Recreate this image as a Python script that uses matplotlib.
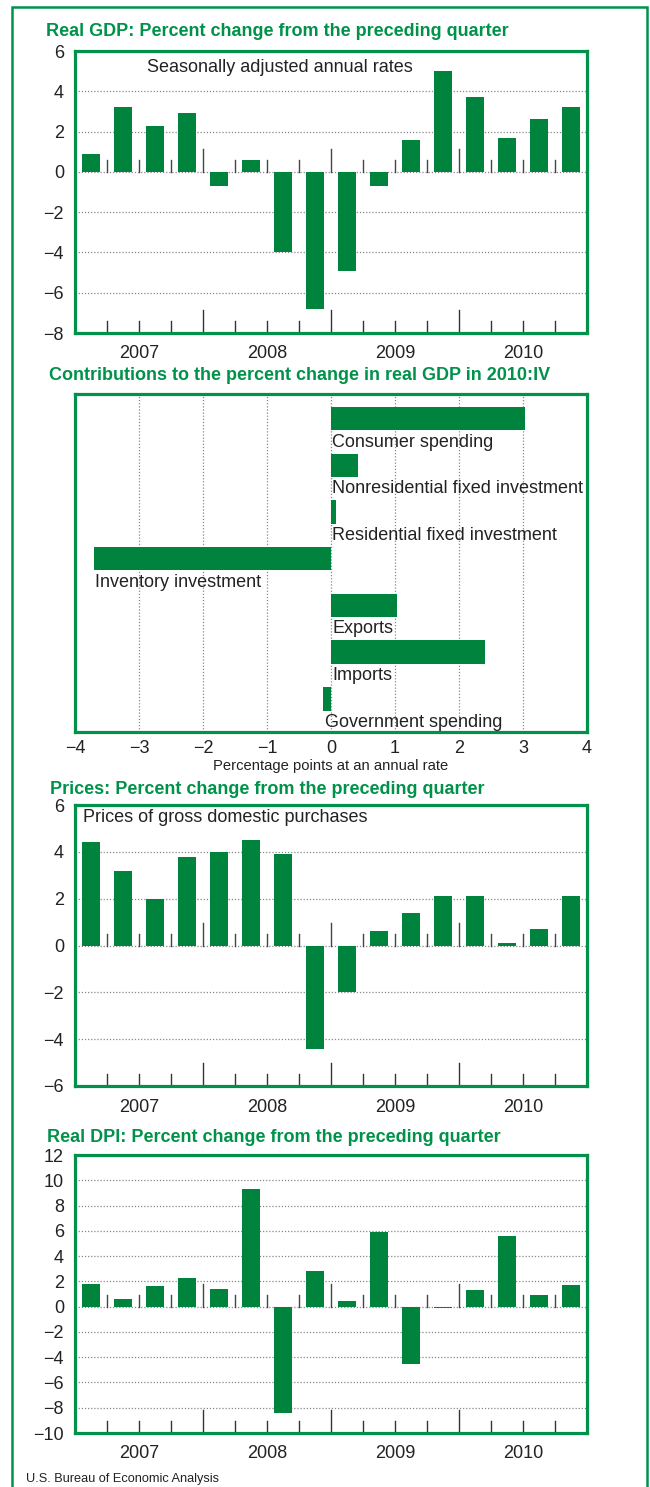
import matplotlib
matplotlib.use("Agg")
import matplotlib.pyplot as plt
import matplotlib.transforms as mtransforms
from matplotlib import font_manager
from matplotlib.patches import Rectangle

# quarters 2007:I - 2010:IV
years = ['2007', '2008', '2009', '2010']
gdp = [0.9, 3.2, 2.3, 2.9, -0.7, 0.6, -4.0, -6.8, -4.9, -0.7, 1.6, 5.0, 3.7, 1.7, 2.6, 3.2]
prices = [4.4, 3.2, 2.0, 3.8, 4.0, 4.5, 3.9, -4.4, -2.0, 0.6, 1.4, 2.1, 2.1, 0.1, 0.7, 2.1]
dpi_chg = [1.8, 0.6, 1.6, 2.3, 1.4, 9.3, -8.4, 2.8, 0.45, 5.9, -4.5, -0.07, 1.3, 5.6, 0.9, 1.7]

contrib_labels = ['Consumer spending', 'Nonresidential fixed investment',
                  'Residential fixed investment', 'Inventory investment',
                  'Exports', 'Imports', 'Government spending']
contrib_vals = [3.03, 0.42, 0.08, -3.71, 1.03, 2.40, -0.12]

W, H = 650, 1487
GREEN = '#00843d'
EDGE = '#00924a'
TXT = '#222222'
plt.rcParams['font.family'] = ['Liberation Sans', 'DejaVu Sans']

# condensed face for titles if there is one, else shrink the normal one
installed = {f.name for f in font_manager.fontManager.ttflist}
if 'Liberation Sans Narrow' in installed:
    NARROW = ['Liberation Sans Narrow', 'DejaVu Sans']
    t_size, small_scale = 15.5, 1.0
elif 'DejaVu Sans Condensed' in installed:
    NARROW = ['DejaVu Sans Condensed', 'DejaVu Sans']
    t_size, small_scale = 14.0, 0.95
else:
    NARROW = ['Liberation Sans', 'DejaVu Sans']
    t_size, small_scale = 13.0, 0.9

fig = plt.figure(figsize=(W / 100, H / 100), dpi=100)


def px_axes(x0, y0, x1, y1):
    return fig.add_axes([x0 / W, 1 - y1 / H, (x1 - x0) / W, (y1 - y0) / H])


def title(x, y, s):
    fig.text(x / W, 1 - y / H, s, family=NARROW, fontweight='bold', fontsize=t_size,
             color=EDGE, ha='left', va='center')


def style_spines(ax):
    for sp in ax.spines.values():
        sp.set_color(EDGE)
        sp.set_linewidth(2.3)


def quarter_panel(ax, vals, ylo, yhi, step, h_px):
    n = len(vals)
    ax.bar(range(n), vals, width=0.58, color=GREEN, zorder=3)
    ax.set_xlim(-0.5, n - 0.5)
    ax.set_ylim(ylo, yhi)
    ax.set_yticks(range(ylo, yhi + 1, step))
    ax.tick_params(axis='y', length=0, labelsize=13, labelcolor=TXT, pad=8)
    ax.set_xticks([1.5, 5.5, 9.5, 13.5])
    ax.set_xticklabels(years)
    ax.tick_params(axis='x', length=0, labelsize=13, labelcolor=TXT, pad=9)
    for yv in range(ylo + step, yhi, step):
        ax.axhline(yv, color='#888888', lw=0.9, ls=(0, (1, 1.5)), zorder=1)
    unit_px = h_px / (yhi - ylo)
    trans = mtransforms.blended_transform_factory(ax.transData, ax.transAxes)
    for k in range(1, n):
        xb = k - 0.5
        big = (k % 4 == 0)
        L = 23 if big else 12
        ax.plot([xb, xb], [0, L / h_px], transform=trans, color='#333333', lw=1, zorder=2,
                clip_on=False)
        ax.plot([xb, xb], [0, L / unit_px], color='#444444', lw=1, zorder=2)
    style_spines(ax)


# panel 1: real GDP
ax1 = px_axes(75, 51, 587, 333)
quarter_panel(ax1, gdp, -8, 6, 2, 282)
ax1.text((280 - 75) / 512, 1 - 16 / 282, 'Seasonally adjusted annual rates',
         transform=ax1.transAxes, ha='center', va='center', fontsize=13, color=TXT)
title(46, 31, 'Real GDP: Percent change from the preceding quarter')

# panel 2: contributions
ax2 = px_axes(75, 394, 587, 732)
ypos = list(range(len(contrib_vals)))
ax2.barh(ypos, contrib_vals, height=0.5, color=GREEN, zorder=3)
ax2.set_xlim(-4, 4)
ax2.set_ylim(6.71, -0.53)
ax2.set_yticks([])
ax2.set_xticks(range(-4, 5))
ax2.tick_params(axis='x', length=0, labelsize=13, labelcolor=TXT, pad=6)
for xv in range(-3, 4):
    ax2.axvline(xv, color='#888888', lw=0.9, ls=(0, (1, 1.5)), zorder=1)
for yp, v, lab in zip(ypos, contrib_vals, contrib_labels):
    ax2.text(min(0, v) + 0.02, yp + 0.5, lab, ha='left', va='center', fontsize=13,
             color=TXT, zorder=4)
ax2.set_xlabel('Percentage points at an annual rate', family=NARROW,
               fontsize=11.8 * small_scale, color=TXT, labelpad=1)
style_spines(ax2)
title(49, 376, 'Contributions to the percent change in real GDP in 2010:IV')

# panel 3: prices
ax3 = px_axes(75, 805, 587, 1086)
quarter_panel(ax3, prices, -6, 6, 2, 281)
ax3.text(8 / 512, 1 - 12 / 281, 'Prices of gross domestic purchases', transform=ax3.transAxes,
         ha='left', va='center', fontsize=13, color=TXT)
title(50, 790, 'Prices: Percent change from the preceding quarter')

# panel 4: real DPI
ax4 = px_axes(75, 1155, 587, 1433)
quarter_panel(ax4, dpi_chg, -10, 12, 2, 278)
title(47, 1138, 'Real DPI: Percent change from the preceding quarter')

fig.text(26 / W, 1 - 1479 / H, 'U.S. Bureau of Economic Analysis', family=NARROW,
         fontsize=10.2 * small_scale, color=TXT, ha='left', va='center')

# outer frame
fig.patches.append(Rectangle((12 / W, -0.05), 635 / W, 1.05 - 7 / H, transform=fig.transFigure,
                             fill=False, edgecolor=EDGE, lw=1.8))

fig.savefig('out.png', dpi=100)
